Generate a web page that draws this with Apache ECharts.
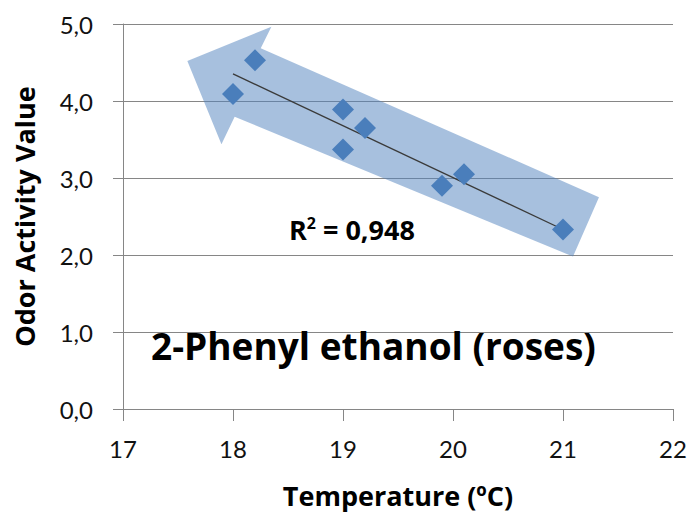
<!DOCTYPE html>
<html><head><meta charset="utf-8">
<script src="https://cdn.jsdelivr.net/npm/echarts@6/dist/echarts.min.js"></script>
<style>html,body{margin:0;padding:0;background:#fff}#c{width:693px;height:517px}</style>
</head><body><div id="c"></div>
<script>
// Data
const temperature = [18.2, 18.0, 19.0, 19.2, 19.0, 19.9, 20.1, 21.0];
const odorActivity = [4.53, 4.09, 3.89, 3.65, 3.37, 2.90, 3.05, 2.33];
const xTickValues = [17, 18, 19, 20, 21, 22];
const yTickValues = [0, 1, 2, 3, 4, 5];
// Annotation arrow outline, in data units (temperature, odor activity)
const arrowX = [17.585, 18.349, 18.252, 21.327, 21.091, 18.015, 17.895];
const arrowY = [4.519, 4.965, 4.685, 2.751, 1.980, 3.797, 3.439];
const rSquaredText = '0,948';
const chartLabel = '2-Phenyl ethanol (roses)';
const xAxisName = 'Temperature (\u00baC)';
const yAxisName = 'Odor Activity Value';

// Linear trendline (least squares) from the data
const n = temperature.length;
const mx = temperature.reduce((a, b) => a + b, 0) / n;
const my = odorActivity.reduce((a, b) => a + b, 0) / n;
let sxy = 0, sxx = 0;
for (let i = 0; i < n; i++) { sxy += (temperature[i] - mx) * (odorActivity[i] - my); sxx += (temperature[i] - mx) ** 2; }
const slope = sxy / sxx, icpt = my - slope * mx;
const xMin = Math.min(...temperature), xMax = Math.max(...temperature);
const trend = [[xMin, icpt + slope * xMin], [xMax, icpt + slope * xMax]];

const points = temperature.map((t, i) => [t, odorActivity[i]]);
const arrow = arrowX.map((x, i) => [x, arrowY[i]]);

const FONT = 'Lato';
const BOLD = '"Open Sans"';
const chart = echarts.init(document.getElementById('c'), null, { renderer: 'svg' });
chart.setOption({
  animation: false,
  backgroundColor: '#fff',
  grid: { left: 123, right: 20, top: 24, bottom: 108, containLabel: false },
  xAxis: {
    type: 'value', min: xTickValues[0], max: xTickValues[xTickValues.length - 1], interval: 1,
    name: xAxisName, nameLocation: 'middle', nameGap: 73,
    nameTextStyle: { fontFamily: BOLD, fontWeight: 'bold', fontSize: 27, color: '#000' },
    axisLine: { show: true, onZero: false, lineStyle: { color: '#868686', width: 1 } },
    axisTick: { show: true, length: 12, lineStyle: { color: '#868686' } },
    axisLabel: { fontFamily: FONT, fontSize: 24, color: '#111', margin: 27 },
    splitLine: { show: false }
  },
  yAxis: {
    type: 'value', min: yTickValues[0], max: yTickValues[yTickValues.length - 1], interval: 1,
    name: yAxisName, nameLocation: 'middle', nameGap: 85,
    nameTextStyle: { fontFamily: BOLD, fontWeight: 'bold', fontSize: 27, color: '#000' },
    axisLine: { show: true, onZero: false, lineStyle: { color: '#868686', width: 1 } },
    axisTick: { show: true, length: 10, lineStyle: { color: '#868686' } },
    axisLabel: { fontFamily: FONT, fontSize: 24, color: '#111', margin: 30,
      formatter: v => v.toFixed(1).replace('.', ',') },
    splitLine: { show: true, lineStyle: { color: '#868686', width: 1 } }
  },
  series: [
    {
      type: 'custom', z: 3, silent: true,
      data: [0],
      renderItem: (params, api) => {
        const pts = arrow.map(p => api.coord(p));
        return { type: 'polygon', shape: { points: pts },
          style: { fill: 'rgba(79,129,189,0.5)', stroke: 'none' } };
      },
      clip: false
    },
    {
      type: 'line', z: 4, data: trend, symbol: 'none', silent: true,
      lineStyle: { color: '#3a3a3a', width: 1.3 }
    },
    {
      type: 'scatter', z: 5, data: points, symbol: 'diamond', symbolSize: 22,
      itemStyle: { color: '#4a7ebb', opacity: 1 }
    }
  ],
  graphic: [
    {
      type: 'text', left: 289, top: 215, z: 10,
      style: {
        text: '{r|R}{s|2}{r| = ' + rSquaredText + '}',
        rich: {
          r: { fontFamily: BOLD, fontWeight: 'bold', fontSize: 27, color: '#000' },
          s: { fontFamily: BOLD, fontWeight: 'bold', fontSize: 16, color: '#000', padding: [0, 0, 13, 0] }
        }
      }
    },
    {
      type: 'text', left: 151, top: 327, z: 10,
      style: { text: chartLabel, fontFamily: BOLD, fontWeight: 'bold', fontSize: 37, fill: '#000' }
    }
  ]
});
</script>
</body></html>
